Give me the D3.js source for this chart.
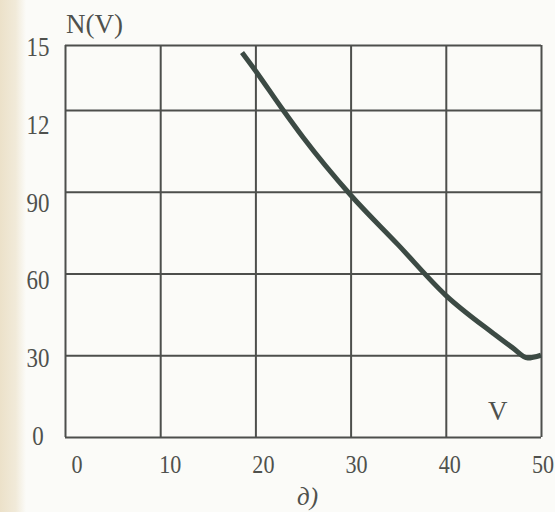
<!DOCTYPE html>
<html>
<head>
<meta charset="utf-8">
<script src="https://cdn.jsdelivr.net/npm/d3@7"></script>
<style>
  body { margin: 0; background: #fbfbf8; }
  svg { display: block; }
</style>
</head>
<body>
<div id="chart"></div>
<script>
// values
var vValues = [18.6, 19.8, 22.9, 25, 30, 35, 40, 45, 47, 48.6, 50];
var nValues = [146.5, 139.4, 120, 110, 88.8, 70.5, 52, 38, 32.8, 29, 30];

var xTicks = [0, 10, 20, 30, 40, 50];
var xTickLabels = ["0", "10", "20", "30", "40", "50"];
var yTicks = [0, 30, 60, 90, 120, 150];
var yTickLabels = ["0", "30", "60", "90", "12", "15"];

var w = 555, h = 512;
var font = "'Liberation Serif', 'Times New Roman', serif";

var svg = d3.select("#chart")
  .append("svg")
  .attr("width", w)
  .attr("height", h);

// paper tint on the left edge of the scan
var grad = svg.append("defs").append("linearGradient")
  .attr("id", "paper")
  .attr("x1", 0).attr("x2", 1).attr("y1", 0).attr("y2", 0);
grad.append("stop").attr("offset", 0).attr("stop-color", "#ece1c9");
grad.append("stop").attr("offset", 0.6).attr("stop-color", "#f1ead9");
grad.append("stop").attr("offset", 1).attr("stop-color", "#fbfbf8");
svg.append("rect")
  .attr("x", 0).attr("y", 0)
  .attr("width", 26).attr("height", h)
  .attr("fill", "url(#paper)");

// the top cell of the original grid is shorter than the others
var x = d3.scaleLinear().domain([0, 50]).range([65, 541]);
var y = d3.scaleLinear().domain([0, 120, 150]).range([437, 110, 45]);

// tick labels sit on their own even spacing in the figure
var xLab = d3.scaleLinear().domain([0, 50]).range([77, 543]);
var yLab = d3.scaleLinear().domain([0, 150]).range([436, 47]);

var gridColor = "#4d4f4c";

svg.append("g")
  .attr("transform", "translate(0,437)")
  .call(d3.axisBottom(x).tickValues(xTicks).tickSize(-(437 - 45)).tickFormat(""))
  .call(function(g) {
    g.select(".domain").remove();
    g.selectAll("line").attr("stroke", gridColor).attr("stroke-width", 2);
  });

svg.append("g")
  .attr("transform", "translate(65,0)")
  .call(d3.axisLeft(y).tickValues(yTicks).tickSize(-(541 - 65)).tickFormat(""))
  .call(function(g) {
    g.select(".domain").remove();
    g.selectAll("line").attr("stroke", gridColor).attr("stroke-width", 2);
  });

// curve
var line = d3.line()
  .x(function(d) { return x(d[0]); })
  .y(function(d) { return y(d[1]); })
  .curve(d3.curveMonotoneX);

svg.append("path")
  .datum(d3.zip(vValues, nValues))
  .attr("d", line)
  .attr("fill", "none")
  .attr("stroke", "#3c4a44")
  .attr("stroke-width", 5)
  .attr("stroke-linecap", "butt");

// tick labels (narrow digits as in the print)
svg.selectAll(".xlab")
  .data(xTicks)
  .enter()
  .append("text")
  .attr("class", "xlab")
  .text(function(d, i) { return xTickLabels[i]; })
  .attr("text-anchor", "middle")
  .attr("transform", function(d) { return "translate(" + xLab(d) + ",473) scale(0.85,1)"; })
  .attr("font-family", font)
  .attr("font-size", "26px")
  .attr("fill", "#4f514d");

svg.selectAll(".ylab")
  .data(yTicks)
  .enter()
  .append("text")
  .attr("class", "ylab")
  .text(function(d, i) { return yTickLabels[i]; })
  .attr("text-anchor", "middle")
  .attr("transform", function(d) { return "translate(38," + (yLab(d) + 9) + ") scale(0.85,1)"; })
  .attr("font-family", font)
  .attr("font-size", "27px")
  .attr("fill", "#4f514d");

// axis names and panel letter
svg.append("text")
  .text("N(V)")
  .attr("x", 66)
  .attr("y", 33)
  .attr("font-family", font)
  .attr("font-size", "27px")
  .attr("fill", "#4f514d");

svg.append("text")
  .text("V")
  .attr("x", 488)
  .attr("y", 420)
  .attr("font-family", font)
  .attr("font-size", "27px")
  .attr("fill", "#4f514d");

svg.append("text")
  .text("д)")
  .attr("x", 297)
  .attr("y", 505)
  .attr("font-family", font)
  .attr("font-style", "italic")
  .attr("font-size", "25px")
  .attr("fill", "#4f514d");
</script>
</body>
</html>
